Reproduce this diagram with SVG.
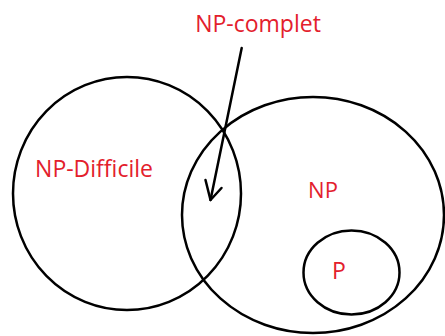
<svg xmlns="http://www.w3.org/2000/svg" width="445" height="336" viewBox="0 0 445 336">
<style>
.set{fill:none;stroke:#000;stroke-width:2.5}
.lbl{font-family:"Open Sans","Liberation Sans",sans-serif;fill:#e3202c;text-anchor:middle}
.con{fill:none;stroke:#000;stroke-width:2.5;stroke-linecap:round;stroke-linejoin:round}
</style>
<rect width="445" height="336" fill="#fff"/>
<g id="np-difficile">
<ellipse class="set" cx="127" cy="193.5" rx="114" ry="116.5"/>
<text class="lbl" x="94" y="176.5" font-size="23">NP-Difficile</text>
</g>
<g id="np">
<ellipse class="set" cx="313" cy="215" rx="131" ry="118"/>
<text class="lbl" x="323" y="197.5" font-size="22">NP</text>
</g>
<g id="p">
<ellipse class="set" cx="351.5" cy="272.5" rx="48" ry="42"/>
<text class="lbl" x="339" y="278.5" font-size="23">P</text>
</g>
<g id="np-complet">
<text class="lbl" x="258" y="31.5" font-size="23">NP-complet</text>
</g>
<g id="connectors">
<path class="con" d="M241.7,48 L210.5,200"/>
<path class="con" d="M205.5,180 L210.5,200 L221.5,188"/>
</g>
</svg>
